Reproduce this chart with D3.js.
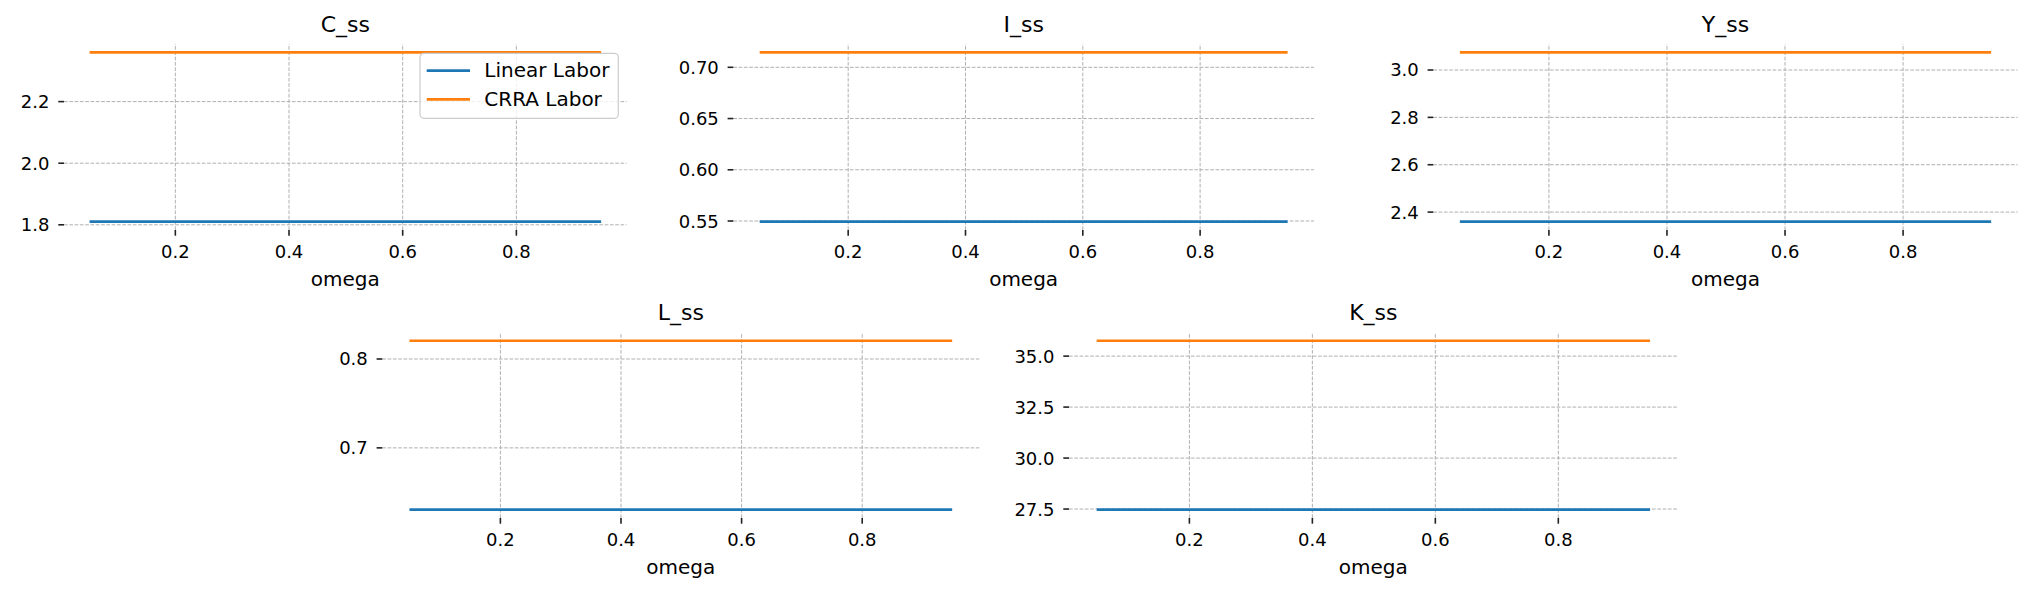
<!DOCTYPE html>
<html>
<head>
<meta charset="utf-8">
<script src="https://cdn.jsdelivr.net/npm/d3@7"></script>
<style>
  body { margin: 0; background: #fff; }
  text { font-family: "DejaVu Sans", sans-serif; fill: #000; }
  .grid line { stroke: #b0b0b0; stroke-width: 1; stroke-dasharray: 3.7,1.6; }
  .grid path { display: none; }
  .axis path { display: none; }
  .axis line { stroke: #222; stroke-width: 1.6; }
</style>
</head>
<body>
<div id="chart"></div>
<script>
// omega grid used for the comparison
const omega = [0.05, 0.15, 0.25, 0.35, 0.45, 0.55, 0.65, 0.75, 0.85, 0.95];

// steady state values, linear labor vs CRRA labor (flat in omega)
const cLinear = [1.809, 1.809, 1.809, 1.809, 1.809, 1.809, 1.809, 1.809, 1.809, 1.809];
const cCrra   = [2.358, 2.358, 2.358, 2.358, 2.358, 2.358, 2.358, 2.358, 2.358, 2.358];
const iLinear = [0.549, 0.549, 0.549, 0.549, 0.549, 0.549, 0.549, 0.549, 0.549, 0.549];
const iCrra   = [0.714, 0.714, 0.714, 0.714, 0.714, 0.714, 0.714, 0.714, 0.714, 0.714];
const yLinear = [2.358, 2.358, 2.358, 2.358, 2.358, 2.358, 2.358, 2.358, 2.358, 2.358];
const yCrra   = [3.072, 3.072, 3.072, 3.072, 3.072, 3.072, 3.072, 3.072, 3.072, 3.072];
const lLinear = [0.630, 0.630, 0.630, 0.630, 0.630, 0.630, 0.630, 0.630, 0.630, 0.630];
const lCrra   = [0.820, 0.820, 0.820, 0.820, 0.820, 0.820, 0.820, 0.820, 0.820, 0.820];
const kLinear = [27.45, 27.45, 27.45, 27.45, 27.45, 27.45, 27.45, 27.45, 27.45, 27.45];
const kCrra   = [35.73, 35.73, 35.73, 35.73, 35.73, 35.73, 35.73, 35.73, 35.73, 35.73];

// tick labels
const xTicks = [0.2, 0.4, 0.6, 0.8];
const cTicks = [1.8, 2.0, 2.2];
const iTicks = [0.55, 0.60, 0.65, 0.70];
const yTicks = [2.4, 2.6, 2.8, 3.0];
const lTicks = [0.7, 0.8];
const kTicks = [27.5, 30.0, 32.5, 35.0];

const seriesNames = ["Linear Labor", "CRRA Labor"];
const colors = ["#1f77b4", "#ff7f0e"];

const W = 2032, H = 592;

// axes boxes (pixels)
const panels = [
  {title: "C_ss", lin: cLinear, crra: cCrra, ticks: cTicks, fmt: ".1f", left: 64,   right: 626.7,  top: 44,    bottom: 230, legend: true},
  {title: "I_ss", lin: iLinear, crra: iCrra, ticks: iTicks, fmt: ".2f", left: 733.3, right: 1314,  top: 44,    bottom: 230},
  {title: "Y_ss", lin: yLinear, crra: yCrra, ticks: yTicks, fmt: ".1f", left: 1433.3, right: 2017.7, top: 44,  bottom: 230},
  {title: "L_ss", lin: lLinear, crra: lCrra, ticks: lTicks, fmt: ".1f", left: 382.3, right: 979.3, top: 332.3, bottom: 518},
  {title: "K_ss", lin: kLinear, crra: kCrra, ticks: kTicks, fmt: ".1f", left: 1069,  right: 1677.7, top: 332.3, bottom: 518}
];

const svg = d3.select("#chart")
  .append("svg")
  .attr("width", W)
  .attr("height", H);

// matplotlib style 5% margins
function padded(ext) {
  const d = (ext[1] - ext[0]) * 0.05;
  return [ext[0] - d, ext[1] + d];
}

panels.forEach(p => {
  const width = p.right - p.left, height = p.bottom - p.top;
  const g = svg.append("g").attr("transform", `translate(${p.left},${p.top})`);

  const x = d3.scaleLinear()
    .domain(padded(d3.extent(omega)))
    .range([0, width]);

  const allVals = p.lin.concat(p.crra);
  const y = d3.scaleLinear()
    .domain(padded(d3.extent(allVals)))
    .range([height, 0]);

  // grid
  g.append("g")
    .attr("class", "grid")
    .attr("transform", `translate(0,${height})`)
    .call(d3.axisBottom(x).tickValues(xTicks).tickSize(-height).tickFormat(""));
  g.append("g")
    .attr("class", "grid")
    .call(d3.axisLeft(y).tickValues(p.ticks).tickSize(-width).tickFormat(""));

  // axes
  const xAxis = g.append("g")
    .attr("class", "axis")
    .attr("transform", `translate(0,${height})`)
    .call(d3.axisBottom(x).tickValues(xTicks).tickSize(5.7).tickFormat(d3.format(".1f")));
  xAxis.selectAll("text")
    .attr("y", null)
    .attr("dy", null)
    .attr("transform", "translate(0,28.3)")
    .style("font-size", "18px");

  const yAxis = g.append("g")
    .attr("class", "axis")
    .call(d3.axisLeft(y).tickValues(p.ticks).tickSize(5.7).tickFormat(d3.format(p.fmt)));
  yAxis.selectAll("text")
    .attr("x", -14.5)
    .attr("dy", "0.36em")
    .style("font-size", "18px");

  // lines
  const line = d3.line()
    .x((d, i) => x(omega[i]))
    .y(d => y(d));

  [p.lin, p.crra].forEach((vals, k) => {
    g.append("path")
      .datum(vals)
      .attr("fill", "none")
      .attr("stroke", colors[k])
      .attr("stroke-width", 2.7)
      .attr("d", line);
  });

  // title and x label
  g.append("text")
    .attr("x", width / 2)
    .attr("y", -12.3)
    .attr("text-anchor", "middle")
    .style("font-size", "22px")
    .text(p.title);

  g.append("text")
    .attr("x", width / 2)
    .attr("y", height + 55.7)
    .attr("text-anchor", "middle")
    .style("font-size", "20px")
    .text("omega");

  if (p.legend) {
    const lw = 198.3, lh = 65;
    const lg = g.append("g").attr("transform", `translate(${width - 8.4 - lw},9.3)`);
    lg.append("rect")
      .attr("width", lw)
      .attr("height", lh)
      .attr("rx", 4)
      .attr("fill", "#fff")
      .attr("fill-opacity", 0.8)
      .attr("stroke", "#cccccc")
      .attr("stroke-width", 1.2);
    seriesNames.forEach((name, k) => {
      const yy = 17.4 + k * 28.6;
      lg.append("line")
        .attr("x1", 6.7).attr("x2", 50)
        .attr("y1", yy).attr("y2", yy)
        .attr("stroke", colors[k])
        .attr("stroke-width", 2.7);
      lg.append("text")
        .attr("x", 64.3)
        .attr("y", yy + 6.8)
        .style("font-size", "20px")
        .text(name);
    });
  }
});
</script>
</body>
</html>
